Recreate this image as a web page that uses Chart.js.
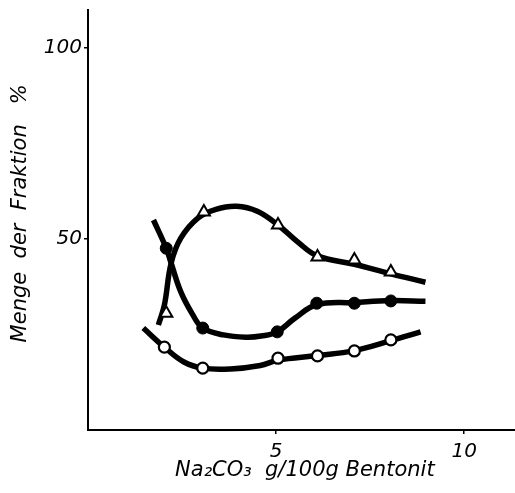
<!DOCTYPE html>
<html>
<head>
<meta charset="utf-8">
<script src="https://cdn.jsdelivr.net/npm/chart.js@4/dist/chart.umd.min.js"></script>
<style>
  html, body { margin: 0; padding: 0; background: #fff; }
  #wrap { width: 515px; height: 493px; }
</style>
</head>
<body>
<div id="wrap"><canvas id="c" width="515" height="493"></canvas></div>
<script>
// Marker values
const triX  = [2.08, 3.08, 5.05, 6.10, 7.08, 8.05];
const triY  = [30.6, 57.1, 53.7, 45.3, 44.5, 41.4];
const dotX  = [2.08, 3.05, 5.03, 6.08, 7.08, 8.05];
const dotY  = [47.6, 26.7, 25.7, 33.2, 33.2, 33.8];
const ringX = [2.03, 3.05, 5.05, 6.10, 7.08, 8.05];
const ringY = [21.7, 16.2, 18.8, 19.4, 20.7, 23.6];

// Hand-drawn fitted curves
const triCurveX  = [1.87, 2.03, 2.21, 2.47, 2.92, 3.40, 3.95, 4.50, 5.05, 5.58, 6.10, 7.08, 8.05, 8.97];
const triCurveY  = [27.5, 32.7, 43.7, 50.3, 55.5, 57.8, 58.6, 57.3, 53.7, 49.2, 45.6, 43.4, 40.9, 38.7];
const dotCurveX  = [1.74, 2.08, 2.21, 2.47, 2.79, 3.05, 3.60, 4.20, 4.60, 5.03, 5.50, 6.08, 7.08, 8.05, 8.97];
const dotCurveY  = [55.0, 47.6, 43.7, 36.1, 30.1, 26.7, 24.9, 24.3, 24.6, 25.7, 29.3, 32.8, 33.4, 33.9, 33.7];
const ringCurveX = [1.47, 2.03, 2.55, 3.05, 3.79, 4.58, 5.05, 6.10, 7.08, 8.05, 8.84];
const ringCurveY = [26.7, 21.7, 17.8, 16.2, 16.0, 16.9, 18.3, 19.5, 20.8, 23.4, 25.7];

const xTicks = [5, 10];
const yTicks = [50, 100];
const xTitle = ' Na\u2082CO\u2083  g/100g Bentonit';
const yTitle = '  Menge  der  Fraktion   %';

const pts = (xs, ys) => xs.map((x, i) => ({ x: x, y: ys[i] }));
const tickFont = { family: 'DejaVu Sans', style: 'italic', size: 20 };
const titleFont = { family: 'DejaVu Sans', style: 'italic', size: 21 };

const curve = (xs, ys) => ({
  type: 'line',
  data: pts(xs, ys),
  borderColor: '#000',
  borderWidth: 5.5,
  pointRadius: 0,
  fill: false,
  tension: 0.4,
  order: 2
});
const marks = (xs, ys, style, fillColor, r, bw) => ({
  type: 'scatter',
  data: pts(xs, ys),
  showLine: false,
  pointStyle: style,
  pointRadius: r,
  pointBackgroundColor: fillColor,
  pointBorderColor: '#000',
  pointBorderWidth: bw,
  order: 1
});

new Chart(document.getElementById('c'), {
  type: 'line',
  data: {
    datasets: [
      curve(triCurveX, triCurveY),
      curve(dotCurveX, dotCurveY),
      curve(ringCurveX, ringCurveY),
      marks(triX, triY, 'triangle', '#fff', 7, 2),
      marks(dotX, dotY, 'circle', '#000', 6, 1),
      marks(ringX, ringY, 'circle', '#fff', 5.5, 2.2)
    ]
  },
  options: {
    responsive: false,
    devicePixelRatio: 1,
    animation: false,
    layout: { autoPadding: false, padding: { top: 10, right: 0, left: 0, bottom: 0 } },
    plugins: { legend: { display: false }, tooltip: { enabled: false } },
    scales: {
      x: {
        type: 'linear',
        min: 0,
        max: 11.35,
        afterBuildTicks: s => { s.ticks = xTicks.map(v => ({ value: v })); },
        afterFit: s => { s.height = 63; s.paddingLeft = 0; s.paddingRight = 0; },
        ticks: { color: '#000', font: tickFont, padding: 6, maxRotation: 0 },
        grid: { drawOnChartArea: false, drawTicks: true, tickLength: 4, color: '#000', lineWidth: 1.5 },
        border: { display: true, color: '#000', width: 2 },
        title: { display: true, text: xTitle, color: '#000', font: titleFont, padding: { top: 0, bottom: 10 } }
      },
      y: {
        type: 'linear',
        min: 0,
        max: 110,
        afterBuildTicks: s => { s.ticks = yTicks.map(v => ({ value: v })); },
        afterFit: s => { s.width = 88; s.paddingTop = 0; s.paddingBottom = 0; },
        ticks: { color: '#000', font: tickFont, padding: 2 },
        grid: { drawOnChartArea: false, drawTicks: true, tickLength: 4, color: '#000', lineWidth: 1.5 },
        border: { display: true, color: '#000', width: 2 },
        title: { display: true, text: yTitle, color: '#000', font: titleFont, padding: { top: 8, bottom: 0 } }
      }
    }
  }
});
</script>
</body>
</html>
